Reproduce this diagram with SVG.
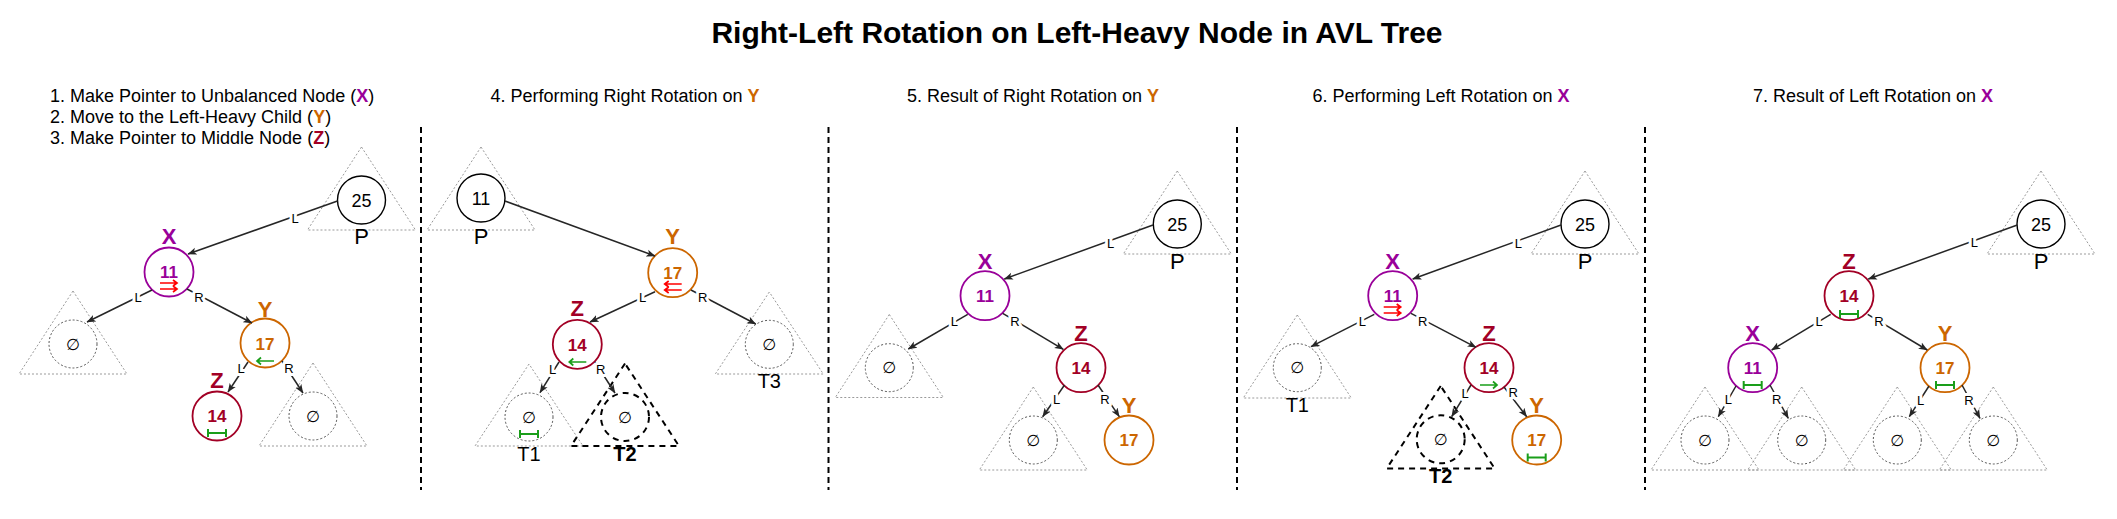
<svg xmlns="http://www.w3.org/2000/svg" xmlns:xlink="http://www.w3.org/1999/xlink" width="2117" height="519" viewBox="0 0 2117 519">
<style>
text{font-family:"Liberation Sans",Arial,sans-serif}
.title{font-size:30px;font-weight:bold;text-anchor:middle;fill:#000}
.sub{font-size:18px;fill:#000}
.ctr{text-anchor:middle}
.b{font-weight:bold}
.lab{font-size:22px;font-weight:bold;text-anchor:middle}
.num{font-size:17px;font-weight:bold;text-anchor:middle}
.numk{font-size:18px;text-anchor:middle;fill:#000}
.pl{font-size:22px;text-anchor:middle;fill:#000}
.tl{font-size:20px;text-anchor:middle;fill:#000}
.emp{font-size:16px;text-anchor:middle;fill:#000;font-family:"DejaVu Sans","Liberation Sans",sans-serif}
.tri{fill:none;stroke:#9a9a9a;stroke-width:1;stroke-dasharray:2 2}
.dc{fill:none;stroke:#555;stroke-width:1;stroke-dasharray:2 2}
.tri2{fill:none;stroke:#000;stroke-width:2;stroke-dasharray:6 5}
.nk{fill:#fff;stroke:#000;stroke-width:1.4}
.cx{stroke:#990099;fill:#fff;stroke-width:1.8}
.cy{stroke:#CC6600;fill:#fff;stroke-width:1.8}
.cz{stroke:#A20025;fill:#fff;stroke-width:1.8}
.fx{fill:#990099}
.fy{fill:#CC6600}
.fz{fill:#A20025}
.e{stroke:#262626;stroke-width:1.5;fill:none;marker-end:url(#arr)}
.el{font-size:13px;text-anchor:middle;fill:#000;paint-order:stroke;stroke:#fff;stroke-width:6px;stroke-linejoin:round}
.div{stroke:#000;stroke-width:2;stroke-dasharray:6 4}
.red{stroke:#FF0000;stroke-width:1.7;fill:none}
.grn{stroke:#1A9E1A;stroke-width:1.7;fill:none}
</style>
<defs>
<marker id="arr" viewBox="0 0 10 10" refX="9.5" refY="5" markerWidth="9" markerHeight="9" markerUnits="userSpaceOnUse" orient="auto">
<path d="M0,1 L10,5 L0,9 L2.5,5 z" fill="#262626"/>
</marker>
<g id="dblR" class="red"><path d="M-9,-3 H8 M4,-6 L8,-3 L4,0 M-9,3 H8 M4,0 L8,3 L4,6"/></g>
<g id="dblL" class="red"><path d="M9,-3 H-8 M-4,-6 L-8,-3 L-4,0 M9,3 H-8 M-4,0 L-8,3 L-4,6"/></g>
<g id="sL" class="grn"><path d="M9,0 H-8 M-4,-3.5 L-8,0 L-4,3.5"/></g>
<g id="sR" class="grn"><path d="M-9,0 H8 M4,-3.5 L8,0 L4,3.5"/></g>
<g id="bal" class="grn"><path d="M-9,0 H9 M-9,-4 V4 M9,-4 V4" stroke-width="2"/></g>
</defs>
<rect width="2117" height="519" fill="#fff"/>

<text class="title" x="1077" y="43">Right-Left Rotation on Left-Heavy Node in AVL Tree</text>

<g id="headings">
<text class="sub" x="50" y="102">1. Make Pointer to Unbalanced Node (<tspan class="b fx">X</tspan>)</text>
<text class="sub" x="50" y="123">2. Move to the Left-Heavy Child (<tspan class="b fy">Y</tspan>)</text>
<text class="sub" x="50" y="144">3. Make Pointer to Middle Node (<tspan class="b fz">Z</tspan>)</text>
<text class="sub ctr" x="625" y="102">4. Performing Right Rotation on <tspan class="b fy">Y</tspan></text>
<text class="sub ctr" x="1033" y="102">5. Result of Right Rotation on <tspan class="b fy">Y</tspan></text>
<text class="sub ctr" x="1441" y="102">6. Performing Left Rotation on <tspan class="b fx">X</tspan></text>
<text class="sub ctr" x="1873" y="102">7. Result of Left Rotation on <tspan class="b fx">X</tspan></text>
</g>

<g id="dividers">
<line class="div" x1="421" y1="127" x2="421" y2="490"/>
<line class="div" x1="828.5" y1="127" x2="828.5" y2="490"/>
<line class="div" x1="1237" y1="127" x2="1237" y2="490"/>
<line class="div" x1="1645" y1="127" x2="1645" y2="490"/>
</g>

<!-- Panel 1 -->
<g id="p1-P">
<polygon class="tri" points="361.5,147 307.5,230 415.5,230"/>
<circle class="nk" cx="361.5" cy="200" r="24"/>
<text class="numk" x="361.5" y="206.5">25</text>
<text class="pl" x="361.5" y="244">P</text>
</g>
<g id="p1-X">
<circle class="cx" cx="169" cy="272" r="24.5"/>
<text class="num fx" x="169" y="278">11</text>
<use xlink:href="#dblR" x="169" y="286"/>
<text class="lab fx" x="169" y="244">X</text>
</g>
<g id="p1-XL">
<polygon class="tri" points="73,291 19,374 127,374"/>
<circle class="dc" cx="73" cy="344" r="24"/>
<text class="emp" x="73" y="349.5">∅</text>
</g>
<g id="p1-Y">
<circle class="cy" cx="265" cy="343" r="24.5"/>
<text class="num fy" x="265" y="350">17</text>
<use xlink:href="#sL" x="265" y="361"/>
<text class="lab fy" x="265" y="316.5">Y</text>
</g>
<g id="p1-Z">
<circle class="cz" cx="217" cy="416" r="24.5"/>
<text class="num fz" x="217" y="422">14</text>
<use xlink:href="#bal" x="217" y="433"/>
<text class="lab fz" x="217" y="388">Z</text>
</g>
<g id="p1-YR">
<polygon class="tri" points="313,363 259,446 367,446"/>
<circle class="dc" cx="313" cy="416" r="24"/>
<text class="emp" x="313" y="421.5">∅</text>
</g>

<!-- Panel 2 -->
<g id="p2-P">
<polygon class="tri" points="481,147 427,230 535,230"/>
<circle class="nk" cx="481" cy="198" r="24"/>
<text class="numk" x="481" y="204.5">11</text>
<text class="pl" x="481" y="244">P</text>
</g>
<g id="p2-Y">
<circle class="cy" cx="672.7" cy="272.7" r="24.5"/>
<text class="num fy" x="672.7" y="279">17</text>
<use xlink:href="#dblL" x="672.7" y="287"/>
<text class="lab fy" x="672.7" y="244">Y</text>
</g>
<g id="p2-Z">
<circle class="cz" cx="577.3" cy="344.3" r="24.5"/>
<text class="num fz" x="577.3" y="350.5">14</text>
<use xlink:href="#sL" x="577.3" y="362"/>
<text class="lab fz" x="577.3" y="316">Z</text>
</g>
<g id="p2-T3">
<polygon class="tri" points="769.3,292 715.3,374 823.3,374"/>
<circle class="dc" cx="769.3" cy="344.3" r="24"/>
<text class="emp" x="769.3" y="349.8">∅</text>
<text class="tl" x="769.3" y="388">T3</text>
</g>
<g id="p2-T1">
<polygon class="tri" points="529,364 475,446 583,446"/>
<circle class="dc" cx="529" cy="417" r="24"/>
<text class="emp" x="529" y="422.5">∅</text>
<use xlink:href="#bal" x="529" y="434"/>
<text class="tl" x="529" y="461">T1</text>
</g>
<g id="p2-T2">
<polygon class="tri2" points="625,363.5 571,446 679,446"/>
<circle class="tri2" cx="625" cy="417" r="24"/>
<text class="emp" x="625" y="422.5">∅</text>
<text class="tl b" x="625" y="461">T2</text>
</g>

<!-- Panel 3 -->
<g id="p3-P">
<polygon class="tri" points="1177.3,171 1123.3,254 1231.3,254"/>
<circle class="nk" cx="1177.3" cy="224" r="24"/>
<text class="numk" x="1177.3" y="230.5">25</text>
<text class="pl" x="1177.3" y="269">P</text>
</g>
<g id="p3-X">
<circle class="cx" cx="985" cy="295.7" r="24.5"/>
<text class="num fx" x="985" y="302">11</text>
<text class="lab fx" x="985" y="269">X</text>
</g>
<g id="p3-XL">
<polygon class="tri" points="889.3,314.5 835.3,397.5 943.3,397.5"/>
<circle class="dc" cx="889.3" cy="367.7" r="24"/>
<text class="emp" x="889.3" y="373.2">∅</text>
</g>
<g id="p3-Z">
<circle class="cz" cx="1081" cy="367.7" r="24.5"/>
<text class="num fz" x="1081" y="374">14</text>
<text class="lab fz" x="1081" y="340.7">Z</text>
</g>
<g id="p3-ZL">
<polygon class="tri" points="1033.3,387 979.3,470 1087.3,470"/>
<circle class="dc" cx="1033.3" cy="440" r="24"/>
<text class="emp" x="1033.3" y="445.5">∅</text>
</g>
<g id="p3-Y">
<circle class="cy" cx="1129" cy="440" r="24.5"/>
<text class="num fy" x="1129" y="446.3">17</text>
<text class="lab fy" x="1129" y="412.7">Y</text>
</g>

<!-- Panel 4 -->
<g id="p4-P">
<polygon class="tri" points="1585,171 1531,254 1639,254"/>
<circle class="nk" cx="1585" cy="224" r="24"/>
<text class="numk" x="1585" y="230.5">25</text>
<text class="pl" x="1585" y="269">P</text>
</g>
<g id="p4-X">
<circle class="cx" cx="1392.7" cy="295.7" r="24.5"/>
<text class="num fx" x="1392.7" y="302">11</text>
<use xlink:href="#dblR" x="1392.7" y="310"/>
<text class="lab fx" x="1392.7" y="269">X</text>
</g>
<g id="p4-T1">
<polygon class="tri" points="1297.3,315 1243.3,398 1351.3,398"/>
<circle class="dc" cx="1297.3" cy="367.7" r="24"/>
<text class="emp" x="1297.3" y="373.2">∅</text>
<text class="tl" x="1297.3" y="412">T1</text>
</g>
<g id="p4-Z">
<circle class="cz" cx="1489" cy="367.7" r="24.5"/>
<text class="num fz" x="1489" y="374">14</text>
<use xlink:href="#sR" x="1489" y="385"/>
<text class="lab fz" x="1489" y="340.7">Z</text>
</g>
<g id="p4-T2">
<polygon class="tri2" points="1440.7,386 1386.7,468.5 1494.7,468.5"/>
<circle class="tri2" cx="1440.7" cy="439.3" r="24"/>
<text class="emp" x="1440.7" y="444.8">∅</text>
<text class="tl b" x="1440.7" y="483">T2</text>
</g>
<g id="p4-Y">
<circle class="cy" cx="1536.7" cy="440" r="24.5"/>
<text class="num fy" x="1536.7" y="446.3">17</text>
<use xlink:href="#bal" x="1536.7" y="457.5"/>
<text class="lab fy" x="1536.7" y="412.7">Y</text>
</g>

<!-- Panel 5 -->
<g id="p5-P">
<polygon class="tri" points="2041,171 1987,254 2095,254"/>
<circle class="nk" cx="2041" cy="224" r="24"/>
<text class="numk" x="2041" y="230.5">25</text>
<text class="pl" x="2041" y="269">P</text>
</g>
<g id="p5-Z">
<circle class="cz" cx="1849" cy="295.7" r="24.5"/>
<text class="num fz" x="1849" y="302">14</text>
<use xlink:href="#bal" x="1849" y="314"/>
<text class="lab fz" x="1849" y="269">Z</text>
</g>
<g id="p5-X">
<circle class="cx" cx="1752.7" cy="367.7" r="24.5"/>
<text class="num fx" x="1752.7" y="374">11</text>
<use xlink:href="#bal" x="1752.7" y="385"/>
<text class="lab fx" x="1752.7" y="340.7">X</text>
</g>
<g id="p5-Y">
<circle class="cy" cx="1945" cy="367.7" r="24.5"/>
<text class="num fy" x="1945" y="374">17</text>
<use xlink:href="#bal" x="1945" y="385"/>
<text class="lab fy" x="1945" y="340.7">Y</text>
</g>
<g id="p5-XL">
<polygon class="tri" points="1705,387 1651,470 1759,470"/>
<circle class="dc" cx="1705" cy="440" r="24"/>
<text class="emp" x="1705" y="445.5">∅</text>
</g>
<g id="p5-XR">
<polygon class="tri" points="1801.7,387 1747.7,470 1855.7,470"/>
<circle class="dc" cx="1801.7" cy="440" r="24"/>
<text class="emp" x="1801.7" y="445.5">∅</text>
</g>
<g id="p5-YL">
<polygon class="tri" points="1897.3,387 1843.3,470 1951.3,470"/>
<circle class="dc" cx="1897.3" cy="440" r="24"/>
<text class="emp" x="1897.3" y="445.5">∅</text>
</g>
<g id="p5-YR">
<polygon class="tri" points="1993.3,387 1939.3,470 2047.3,470"/>
<circle class="dc" cx="1993.3" cy="440" r="24"/>
<text class="emp" x="1993.3" y="445.5">∅</text>
</g>

<g id="connectors">
<line class="e" x1="337.5" y1="201" x2="188" y2="254"/>
<line class="e" x1="152" y1="290" x2="87" y2="322"/>
<line class="e" x1="187" y1="289" x2="252" y2="323"/>
<line class="e" x1="248" y1="362" x2="228" y2="392"/>
<line class="e" x1="282" y1="361" x2="303" y2="393"/>

<line class="e" x1="505" y1="201" x2="655" y2="256"/>
<line class="e" x1="655" y1="291.7" x2="590" y2="322"/>
<line class="e" x1="691" y1="290" x2="755.7" y2="324"/>
<line class="e" x1="559" y1="362" x2="540" y2="392.7"/>
<line class="e" x1="595" y1="362" x2="615" y2="393"/>

<line class="e" x1="1153" y1="225" x2="1004.3" y2="279"/>
<line class="e" x1="967.7" y1="314.3" x2="908.3" y2="349"/>
<line class="e" x1="1002.7" y1="313.3" x2="1063.3" y2="349.3"/>
<line class="e" x1="1064.5" y1="385" x2="1042.7" y2="416.7"/>
<line class="e" x1="1098" y1="385" x2="1119.3" y2="416.7"/>

<line class="e" x1="1561" y1="225" x2="1412.7" y2="279"/>
<line class="e" x1="1374.3" y1="314.3" x2="1311" y2="346.7"/>
<line class="e" x1="1411" y1="313.3" x2="1476" y2="347.3"/>
<line class="e" x1="1471" y1="385" x2="1451.7" y2="416.7"/>
<line class="e" x1="1504" y1="387" x2="1526.7" y2="416.7"/>

<line class="e" x1="2017.3" y1="225" x2="1868.3" y2="279"/>
<line class="e" x1="1830.7" y1="314.3" x2="1771.7" y2="350"/>
<line class="e" x1="1867.7" y1="314.3" x2="1927.3" y2="350"/>
<line class="e" x1="1736" y1="386" x2="1718.3" y2="416.7"/>
<line class="e" x1="1770" y1="385" x2="1788.3" y2="418.3"/>
<line class="e" x1="1929" y1="386" x2="1909.3" y2="416.7"/>
<line class="e" x1="1962" y1="385" x2="1980" y2="418.3"/>

<text class="el" x="295" y="223">L</text>
<text class="el" x="138" y="301.8">L</text>
<text class="el" x="199" y="301.8">R</text>
<text class="el" x="241" y="372.8">L</text>
<text class="el" x="289" y="372.8">R</text>

<text class="el" x="642.7" y="301.8">L</text>
<text class="el" x="702.7" y="301.8">R</text>
<text class="el" x="552.7" y="373.8">L</text>
<text class="el" x="600.7" y="373.8">R</text>

<text class="el" x="1110.7" y="248">L</text>
<text class="el" x="954.3" y="325.5">L</text>
<text class="el" x="1015" y="325.5">R</text>
<text class="el" x="1056.7" y="403.8">L</text>
<text class="el" x="1105" y="403.8">R</text>

<text class="el" x="1518.3" y="247.5">L</text>
<text class="el" x="1362.3" y="325.5">L</text>
<text class="el" x="1422.7" y="325.5">R</text>
<text class="el" x="1465" y="397.8">L</text>
<text class="el" x="1513.3" y="396.8">R</text>

<text class="el" x="1974.3" y="246.5">L</text>
<text class="el" x="1819" y="325.5">L</text>
<text class="el" x="1879" y="325.5">R</text>
<text class="el" x="1728.3" y="403.8">L</text>
<text class="el" x="1776.7" y="403.8">R</text>
<text class="el" x="1920.7" y="404.8">L</text>
<text class="el" x="1969" y="404.8">R</text>
</g>
</svg>
